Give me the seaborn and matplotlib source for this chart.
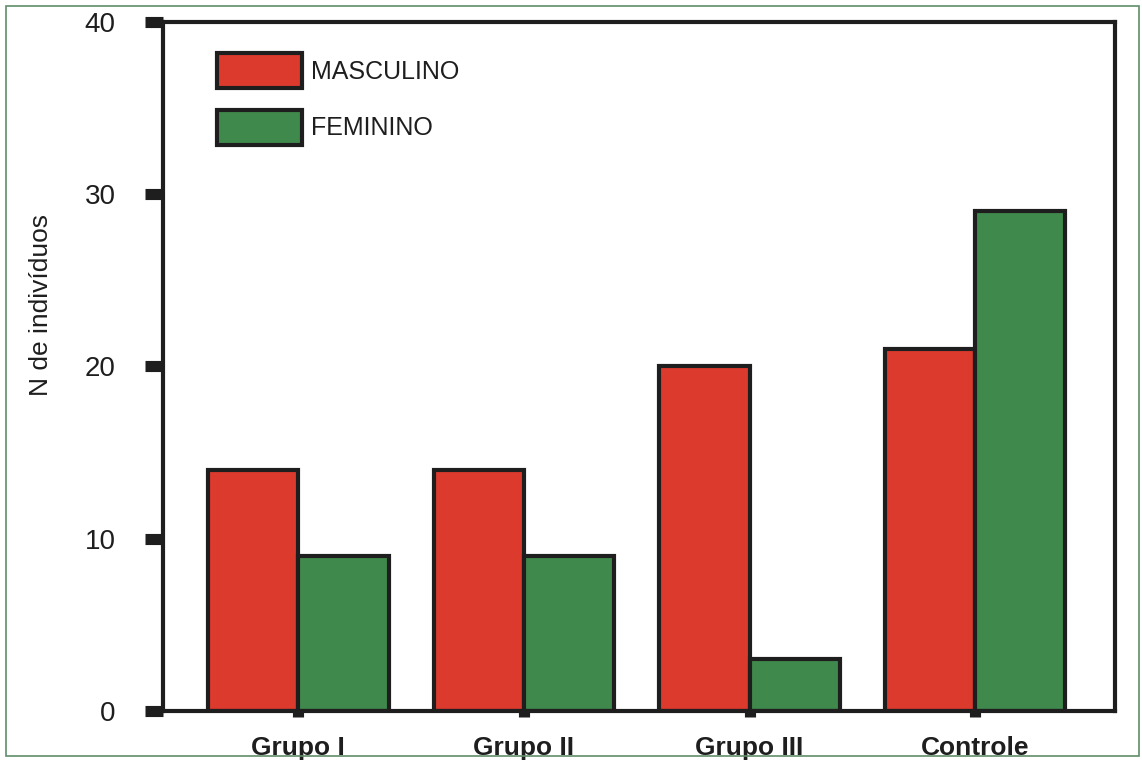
import pandas as pd
import matplotlib
matplotlib.use("Agg")
import matplotlib.pyplot as plt
import seaborn as sns
from matplotlib.patches import Rectangle

# data
grupos = ["Grupo I", "Grupo II", "Grupo III", "Controle"]
masculino = [14, 14, 20, 21]
feminino = [9, 9, 3, 29]
sexos = ["MASCULINO", "FEMININO"]
cores = ["#DD3A2E", "#40894C"]

df = pd.DataFrame({
    "grupo": grupos * 2,
    "sexo": [sexos[0]] * len(grupos) + [sexos[1]] * len(grupos),
    "n": masculino + feminino,
})

sns.set_style("white")
plt.rcParams["font.family"] = ["Liberation Sans", "DejaVu Sans"]
plt.rcParams["text.color"] = "#1e1e1e"
plt.rcParams["axes.labelcolor"] = "#1e1e1e"
plt.rcParams["xtick.color"] = "#1e1e1e"
plt.rcParams["ytick.color"] = "#1e1e1e"

fig = plt.figure(figsize=(11.42, 7.61), dpi=100)
ax = fig.add_axes([0.1427, 0.0657, 0.8337, 0.9054])

sns.barplot(data=df, x="grupo", y="n", hue="sexo", palette=cores,
            order=grupos, hue_order=sexos, width=0.8,
            edgecolor="#1e1e1e", linewidth=3, saturation=1, ax=ax)

ax.set_ylim(0, 40)
ax.set_xlim(-0.6, 3.62)
ax.set_yticks([0, 10, 20, 30, 40])
ax.set_yticklabels(["0", "10", "20", "30", "40"], fontsize=20)
ax.set_xticks(range(len(grupos)))
ax.set_xticklabels(grupos, fontsize=19, fontweight="bold")
ax.set_xlabel("")
ax.set_ylabel("N de indivíduos", fontsize=19)
# the label sits above the middle of the axis in the original
ax.yaxis.set_label_coords(-0.116, 0.589)

for s in ax.spines.values():
    s.set_linewidth(3)
    s.set_color("#1e1e1e")

ax.tick_params(axis="y", left=True, direction="out", length=13, width=8, pad=21)
ax.tick_params(axis="x", bottom=True, direction="out", length=4, width=8, pad=14)

leg = ax.legend(loc="upper left", bbox_to_anchor=(0.057, 0.955), frameon=False,
                fontsize=18, handlelength=3.4, handleheight=1.8,
                labelspacing=0.85, handletextpad=0.35,
                borderpad=0, borderaxespad=0)
for p in leg.get_patches():
    p.set_edgecolor("#1e1e1e")
    p.set_linewidth(3)

fig.patches.append(Rectangle((0.005, 0.006), 0.992, 0.986, transform=fig.transFigure,
                             fill=False, edgecolor="#5f8f68", linewidth=1.2))

fig.savefig("out.png", dpi=100)
